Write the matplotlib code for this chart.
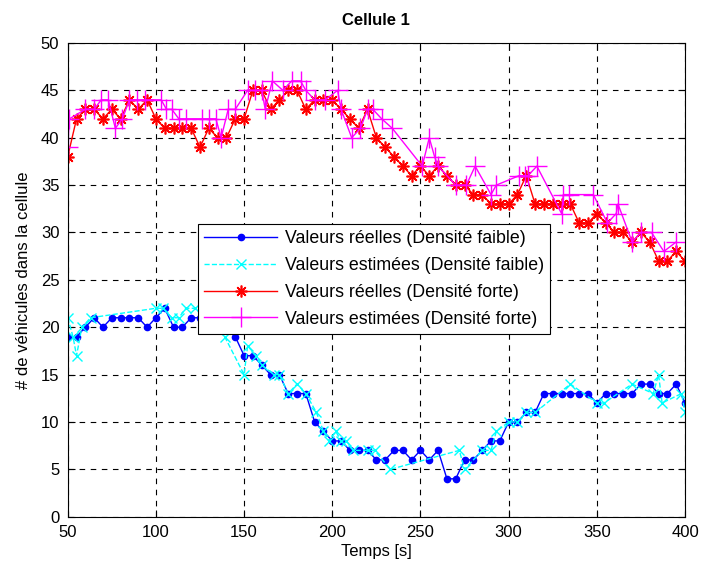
import numpy as np
import matplotlib.pyplot as plt

# time axis (s), one sample every 5 s
t_reel = list(range(50, 401, 5))

# real values, low density
faible_reel = [19, 19, 20, 21, 20, 21, 21, 21, 21, 20, 21, 22, 20, 20, 21, 21, 21, 21, 20,
               19, 17, 17, 16, 15, 15, 13, 13, 13, 10, 9, 8, 8, 7, 7, 7, 6, 6, 7, 7, 6,
               7, 6, 7, 4, 4, 6, 6, 7, 8, 8, 10, 10, 11, 11, 13, 13, 13, 13, 13, 13,
               12, 13, 13, 13, 13, 14, 14, 13, 13, 14, 12]

# real values, high density
forte_reel = [38, 42, 43, 43, 42, 43, 42, 44, 43, 44, 42, 41, 41, 41, 41, 39, 41, 40, 40,
              42, 42, 45, 45, 43, 44, 45, 45, 43, 44, 44, 44, 43, 42, 41, 43, 40, 39, 38,
              37, 36, 37, 36, 37, 36, 35, 35, 34, 34, 33, 33, 33, 34, 36, 33, 33, 33, 33,
              33, 31, 31, 32, 31, 30, 30, 29, 30, 29, 27, 27, 28, 27]

# estimated values, low density (irregular times)
t_faible_est = [50, 53, 55, 58, 63, 100, 104, 109, 113, 117, 122, 139, 150, 152, 157,
                160, 167, 170, 175, 180, 185, 191, 195, 198, 202, 205, 208, 212, 220,
                224, 233, 272, 275, 285, 290, 293, 300, 305, 310, 315, 335, 350, 354,
                370, 382, 385, 387, 398, 400]
faible_est = [21, 19, 17, 20, 21, 22, 22, 21, 21, 22, 22, 19, 15, 18, 17,
              16, 15, 15, 13, 14, 13, 11, 9, 8, 9, 8, 8, 7, 7,
              7, 5, 7, 5, 7, 7, 9, 10, 10, 11, 11, 14, 12, 12,
              14, 13, 15, 12, 13, 11]

# estimated values, high density (irregular times)
t_forte_est = [50, 51, 60, 65, 69, 73, 77, 81, 85, 89, 94, 103, 106, 109, 113, 117,
               126, 130, 134, 137, 141, 145, 152, 156, 160, 162, 166, 172, 177, 182,
               185, 190, 196, 203, 205, 211, 216, 220, 223, 228, 234, 251, 255, 258,
               260, 270, 276, 281, 290, 293, 306, 309, 311, 316, 330, 331, 334, 348,
               356, 361, 362, 370, 375, 381, 388, 395]
forte_est = [39, 42, 43, 43, 44, 44, 41, 42, 44, 44, 44, 44, 43, 43, 42, 42,
             42, 42, 42, 40, 43, 43, 45, 45, 45, 43, 46, 45, 46, 46,
             45, 44, 44, 45, 43, 40, 41, 43, 43, 42, 41, 37, 40, 38,
             37, 35, 35, 37, 34, 35, 36, 36, 36, 37, 32, 34, 34, 34,
             31, 32, 33, 29, 30, 30, 28, 29]

plt.rcParams['font.family'] = ['Liberation Sans', 'DejaVu Sans']

fig = plt.figure(figsize=(7.01, 5.68), dpi=100)
ax = fig.add_axes([0.0966, 0.0903, 0.8806, 0.834])

asterisk = (8, 2, 0)
ax.plot(t_reel, faible_reel, '.-', color='blue', lw=1, ms=9,
        label='Valeurs réelles (Densité faible)')
ax.plot(t_faible_est, faible_est, 'x--', color='cyan', lw=1, ms=7,
        label='Valeurs estimées (Densité faible)')
ax.plot(t_reel, forte_reel, '-', marker=asterisk, color='red', lw=1, ms=8.5, mew=1.2,
        label='Valeurs réelles (Densité forte)')
ax.plot(t_forte_est, forte_est, '+-', color='magenta', lw=1, ms=14,
        label='Valeurs estimées (Densité forte)')

ax.set_xlim(50, 400)
ax.set_ylim(0, 50)
ax.set_xticks(range(50, 401, 50))
ax.set_yticks(range(0, 51, 5))
ax.grid(True, color='black', linestyle=(0, (5, 5)), linewidth=0.8)
ax.tick_params(direction='in', top=True, right=True, labelsize=12, length=5, pad=6)
for s in ax.spines.values():
    s.set_linewidth(0.8)

ax.set_title('Cellule 1', fontsize=12, fontweight='bold', pad=13)
ax.set_xlabel('Temps [s]', fontsize=12, labelpad=3)
ax.set_ylabel('# de véhicules dans la cellule', fontsize=12, labelpad=7)

leg = ax.legend(loc='upper left', bbox_to_anchor=(0.211, 0.618), fontsize=12.8,
                handlelength=4.1, fancybox=False, framealpha=1, edgecolor='black',
                borderpad=0.35, labelspacing=0.55, handletextpad=0.45, borderaxespad=0)
leg.get_frame().set_linewidth(0.8)

fig.savefig('out.png', dpi=100)
